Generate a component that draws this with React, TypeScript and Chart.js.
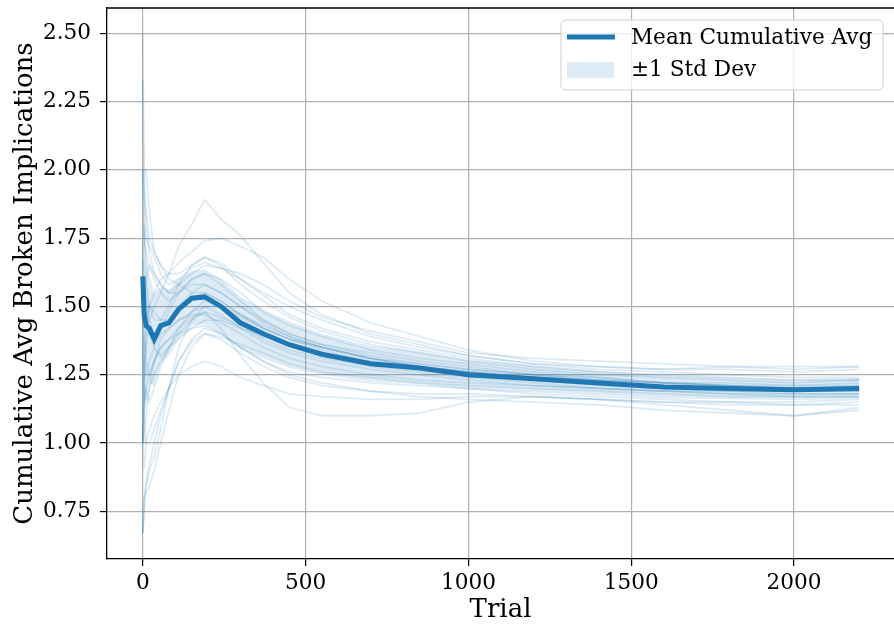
import React, { useEffect, useRef } from "react";
import { Chart, registerables } from "chart.js";

Chart.register(...registerables);

const TRIALS = [0, 4, 10, 20, 35, 55, 80, 110, 150, 190, 240, 300, 370, 450, 550, 700, 850, 1000, 1200, 1400, 1600, 1800, 2000, 2200];

const MEAN = [1.61, 1.47, 1.43, 1.42, 1.38, 1.43, 1.44, 1.49, 1.53, 1.535, 1.5, 1.44, 1.4, 1.36, 1.325, 1.29, 1.275, 1.25, 1.235, 1.22, 1.205, 1.2, 1.195, 1.2];
const STD = [0.4, 0.33, 0.26, 0.2, 0.17, 0.14, 0.12, 0.11, 0.1, 0.1, 0.1, 0.095, 0.09, 0.085, 0.075, 0.065, 0.06, 0.055, 0.05, 0.045, 0.042, 0.04, 0.038, 0.038];

const RUN_01 = [1.0, 1.2, 1.35, 1.45, 1.5, 1.55, 1.62, 1.72, 1.8, 1.89, 1.82, 1.76, 1.66, 1.55, 1.47, 1.4, 1.36, 1.32, 1.29, 1.28, 1.27, 1.28, 1.27, 1.28];
const RUN_02 = [0.67, 0.8, 0.85, 0.9, 0.95, 1.05, 1.2, 1.35, 1.45, 1.48, 1.42, 1.32, 1.22, 1.13, 1.1, 1.1, 1.11, 1.15, 1.17, 1.16, 1.14, 1.12, 1.1, 1.12];
const RUN_03 = [2.0, 2.0, 2.0, 1.85, 1.7, 1.65, 1.6, 1.58, 1.55, 1.55, 1.52, 1.47, 1.42, 1.38, 1.35, 1.31, 1.29, 1.27, 1.25, 1.24, 1.22, 1.21, 1.21, 1.21];
const RUN_04 = [2.5, 2.0, 1.8, 1.7, 1.62, 1.58, 1.55, 1.55, 1.6, 1.62, 1.6, 1.55, 1.48, 1.43, 1.39, 1.34, 1.31, 1.29, 1.26, 1.24, 1.22, 1.21, 1.2, 1.2];
const RUN_05 = [2.33, 1.85, 1.6, 1.5, 1.45, 1.45, 1.5, 1.58, 1.65, 1.68, 1.65, 1.58, 1.52, 1.46, 1.41, 1.36, 1.33, 1.3, 1.27, 1.25, 1.24, 1.23, 1.22, 1.23];
const RUN_06 = [1.0, 1.25, 1.4, 1.5, 1.55, 1.6, 1.62, 1.66, 1.7, 1.74, 1.75, 1.72, 1.68, 1.6, 1.52, 1.44, 1.39, 1.34, 1.3, 1.28, 1.27, 1.27, 1.26, 1.27];
const RUN_07 = [0.67, 0.75, 0.85, 0.92, 1.0, 1.1, 1.2, 1.3, 1.38, 1.42, 1.4, 1.35, 1.3, 1.26, 1.24, 1.22, 1.21, 1.2, 1.18, 1.17, 1.16, 1.15, 1.15, 1.16];
const RUN_08 = [1.0, 1.0, 1.1, 1.2, 1.3, 1.38, 1.42, 1.45, 1.48, 1.5, 1.47, 1.42, 1.37, 1.33, 1.3, 1.27, 1.25, 1.23, 1.21, 1.2, 1.19, 1.18, 1.18, 1.18];
const RUN_09 = [1.5, 1.6, 1.55, 1.45, 1.4, 1.42, 1.45, 1.5, 1.55, 1.58, 1.55, 1.5, 1.45, 1.4, 1.36, 1.32, 1.29, 1.27, 1.25, 1.23, 1.22, 1.21, 1.2, 1.2];
const RUN_10 = [2.0, 1.75, 1.7, 1.65, 1.6, 1.55, 1.52, 1.55, 1.6, 1.62, 1.58, 1.52, 1.45, 1.4, 1.36, 1.33, 1.3, 1.28, 1.25, 1.23, 1.21, 1.2, 1.19, 1.19];
const RUN_11 = [1.33, 1.4, 1.3, 1.25, 1.3, 1.35, 1.38, 1.42, 1.46, 1.48, 1.46, 1.43, 1.38, 1.34, 1.31, 1.28, 1.26, 1.24, 1.22, 1.2, 1.19, 1.18, 1.17, 1.17];
const RUN_12 = [1.67, 1.5, 1.45, 1.4, 1.35, 1.32, 1.35, 1.38, 1.42, 1.45, 1.45, 1.42, 1.39, 1.36, 1.32, 1.29, 1.27, 1.25, 1.23, 1.21, 1.2, 1.19, 1.19, 1.19];
const RUN_13 = [1.0, 1.1, 1.2, 1.25, 1.3, 1.35, 1.38, 1.4, 1.42, 1.43, 1.4, 1.35, 1.3, 1.25, 1.22, 1.19, 1.17, 1.16, 1.15, 1.14, 1.12, 1.11, 1.1, 1.13];
const RUN_14 = [1.67, 1.8, 1.75, 1.72, 1.68, 1.62, 1.58, 1.6, 1.64, 1.66, 1.64, 1.6, 1.55, 1.5, 1.45, 1.39, 1.35, 1.32, 1.29, 1.27, 1.26, 1.25, 1.24, 1.24];
const RUN_15 = [1.33, 1.2, 1.15, 1.2, 1.25, 1.3, 1.35, 1.42, 1.48, 1.52, 1.5, 1.46, 1.42, 1.38, 1.35, 1.31, 1.28, 1.26, 1.24, 1.22, 1.21, 1.2, 1.2, 1.2];
const RUN_16 = [0.67, 0.8, 0.82, 0.84, 0.9, 1.0, 1.12, 1.25, 1.35, 1.4, 1.38, 1.33, 1.28, 1.24, 1.21, 1.19, 1.18, 1.18, 1.17, 1.16, 1.15, 1.14, 1.14, 1.15];
const RUN_17 = [2.0, 1.9, 1.85, 1.75, 1.7, 1.65, 1.62, 1.62, 1.65, 1.68, 1.66, 1.6, 1.54, 1.47, 1.42, 1.37, 1.34, 1.31, 1.28, 1.26, 1.25, 1.24, 1.23, 1.23];
const RUN_18 = [1.0, 1.3, 1.45, 1.5, 1.48, 1.45, 1.45, 1.48, 1.52, 1.55, 1.52, 1.47, 1.42, 1.38, 1.34, 1.3, 1.28, 1.26, 1.24, 1.23, 1.22, 1.22, 1.21, 1.22];
const RUN_19 = [1.0, 0.9, 1.0, 1.05, 1.1, 1.15, 1.2, 1.25, 1.28, 1.3, 1.28, 1.24, 1.21, 1.18, 1.17, 1.16, 1.16, 1.17, 1.17, 1.16, 1.15, 1.15, 1.14, 1.14];
const RUN_20 = [1.67, 1.6, 1.5, 1.4, 1.38, 1.42, 1.48, 1.55, 1.58, 1.58, 1.55, 1.5, 1.44, 1.39, 1.35, 1.31, 1.28, 1.26, 1.24, 1.22, 1.21, 1.2, 1.2, 1.21];
const RUN_21 = [1.33, 1.5, 1.6, 1.65, 1.62, 1.58, 1.55, 1.58, 1.62, 1.65, 1.64, 1.62, 1.58, 1.52, 1.46, 1.41, 1.37, 1.33, 1.31, 1.3, 1.29, 1.28, 1.28, 1.28];
const RUN_22 = [1.5, 1.3, 1.25, 1.3, 1.35, 1.4, 1.42, 1.45, 1.47, 1.47, 1.44, 1.4, 1.35, 1.31, 1.28, 1.25, 1.23, 1.22, 1.21, 1.2, 1.19, 1.19, 1.18, 1.18];
const RUN_23 = [1.0, 1.15, 1.2, 1.15, 1.2, 1.28, 1.35, 1.4, 1.45, 1.5, 1.5, 1.47, 1.43, 1.39, 1.35, 1.31, 1.28, 1.26, 1.24, 1.23, 1.22, 1.21, 1.2, 1.2];
const RUN_24 = [1.33, 1.1, 1.0, 1.0, 1.05, 1.12, 1.2, 1.3, 1.37, 1.4, 1.39, 1.36, 1.33, 1.29, 1.26, 1.24, 1.22, 1.21, 1.2, 1.19, 1.18, 1.17, 1.17, 1.17];

const RUNS = [RUN_01, RUN_02, RUN_03, RUN_04, RUN_05, RUN_06, RUN_07, RUN_08, RUN_09, RUN_10, RUN_11, RUN_12, RUN_13, RUN_14, RUN_15, RUN_16, RUN_17, RUN_18, RUN_19, RUN_20, RUN_21, RUN_22, RUN_23, RUN_24];

const X_TICKS = [0, 500, 1000, 1500, 2000];
const Y_TICKS = [0.75, 1.0, 1.25, 1.5, 1.75, 2.0, 2.25, 2.5];

const X_TITLE = "Trial";
const Y_TITLE = "Cumulative Avg Broken Implications";
const LEGEND_MEAN = "Mean Cumulative Avg";
const LEGEND_STD = "±1 Std Dev";

const FONT = '"DejaVu Serif", serif';
const TICK_SIZE = 21.6;
const TITLE_SIZE = 26;
const C0 = "#1f77b4";
const C0_FAINT = "rgba(31,119,180,0.15)";

const framePlugin = {
  id: "frameAndLegend",
  afterDraw(chart: any) {
    const { ctx, chartArea } = chart;
    ctx.save();
    ctx.strokeStyle = "#000";
    ctx.lineWidth = 1.3;
    ctx.beginPath();
    ctx.moveTo(chartArea.left, chartArea.top);
    ctx.lineTo(chartArea.right, chartArea.top);
    ctx.stroke();

    const bx = 561, by = 20, bw = 322, bh = 70, r = 5;
    ctx.beginPath();
    ctx.moveTo(bx + r, by);
    ctx.lineTo(bx + bw - r, by);
    ctx.quadraticCurveTo(bx + bw, by, bx + bw, by + r);
    ctx.lineTo(bx + bw, by + bh - r);
    ctx.quadraticCurveTo(bx + bw, by + bh, bx + bw - r, by + bh);
    ctx.lineTo(bx + r, by + bh);
    ctx.quadraticCurveTo(bx, by + bh, bx, by + bh - r);
    ctx.lineTo(bx, by + r);
    ctx.quadraticCurveTo(bx, by, bx + r, by);
    ctx.closePath();
    ctx.fillStyle = "rgba(255,255,255,0.8)";
    ctx.fill();
    ctx.strokeStyle = "#d0d0d0";
    ctx.lineWidth = 1;
    ctx.stroke();

    ctx.strokeStyle = C0;
    ctx.lineWidth = 5;
    ctx.beginPath();
    ctx.moveTo(567, 37);
    ctx.lineTo(615, 37);
    ctx.stroke();
    ctx.fillStyle = C0_FAINT;
    ctx.fillRect(567, 62, 47, 16);

    ctx.fillStyle = "#000";
    ctx.font = `${TICK_SIZE}px ${FONT}`;
    ctx.textBaseline = "middle";
    ctx.textAlign = "left";
    ctx.fillText(LEGEND_MEAN, 631, 38);
    ctx.fillText(LEGEND_STD, 631, 70);
    ctx.restore();
  },
};

export default function App() {
  const ref = useRef<HTMLCanvasElement | null>(null);

  useEffect(() => {
    if (!ref.current) return;
    const toPts = (arr: number[]) => TRIALS.map((t, i) => ({ x: t, y: arr[i] }));
    const runSets = RUNS.map((run) => ({
      data: toPts(run),
      borderColor: C0_FAINT,
      borderWidth: 1.8,
      fill: false,
      order: 10,
      pointRadius: 0,
    }));
    const upper = MEAN.map((m, i) => m + STD[i]);
    const lower = MEAN.map((m, i) => m - STD[i]);

    const chart = new Chart(ref.current, {
      type: "line",
      data: {
        datasets: [
          ...runSets,
          {
            data: toPts(upper),
            borderColor: "rgba(0,0,0,0)",
            borderWidth: 0,
            fill: false,
            order: 5,
            pointRadius: 0,
          },
          {
            data: toPts(lower),
            borderColor: "rgba(0,0,0,0)",
            borderWidth: 0,
            backgroundColor: C0_FAINT,
            fill: "-1",
            order: 5,
            pointRadius: 0,
          },
          {
            data: toPts(MEAN),
            borderColor: C0,
            borderWidth: 5,
            fill: false,
            order: 0,
            pointRadius: 0,
          },
        ] as any,
      },
      options: {
        animation: false,
        responsive: false,
        devicePixelRatio: 1,
        layout: { padding: { top: 8, left: 0, right: 0, bottom: 0 } },
        plugins: {
          legend: { display: false },
          tooltip: { enabled: false },
        },
        elements: { line: { tension: 0 }, point: { radius: 0 } },
        scales: {
          x: {
            type: "linear",
            min: -110,
            max: 2307,
            afterBuildTicks: (s: any) => {
              s.ticks = X_TICKS.map((v) => ({ value: v }));
            },
            afterFit: (s: any) => {
              s.height = 67;
              s.paddingLeft = 0;
              s.paddingRight = 0;
            },
            ticks: {
              color: "#000",
              font: { family: FONT, size: TICK_SIZE },
              padding: 4,
              maxRotation: 0,
              autoSkip: false,
              callback: (v: any) => String(v),
            },
            grid: {
              color: "#b0b0b0",
              lineWidth: 1.2,
              tickColor: "#000",
              tickLength: 7,
              tickWidth: 1.2,
            },
            border: { display: true, color: "#000", width: 1.3 },
            title: {
              display: true,
              text: X_TITLE,
              color: "#000",
              font: { family: FONT, size: TITLE_SIZE },
              padding: { top: 0, bottom: 0 },
            },
          },
          y: {
            type: "linear",
            min: 0.5755,
            max: 2.5926,
            afterBuildTicks: (s: any) => {
              s.ticks = Y_TICKS.map((v) => ({ value: v }));
            },
            afterFit: (s: any) => {
              s.width = 107;
              s.paddingTop = 0;
              s.paddingBottom = 0;
            },
            ticks: {
              color: "#000",
              font: { family: FONT, size: TICK_SIZE },
              padding: 9,
              autoSkip: false,
              callback: (v: any) => Number(v).toFixed(2),
            },
            grid: {
              color: "#b0b0b0",
              lineWidth: 1.2,
              tickColor: "#000",
              tickLength: 7,
              tickWidth: 1.2,
            },
            border: { display: true, color: "#000", width: 1.3 },
            title: {
              display: true,
              text: Y_TITLE,
              color: "#000",
              font: { family: FONT, size: TITLE_SIZE },
              padding: { top: 10, bottom: 0 },
            },
          },
        },
      } as any,
      plugins: [framePlugin],
    });
    return () => chart.destroy();
  }, []);

  return (
    <div style={{ position: "fixed", left: 0, top: 0, width: 894, height: 626, background: "#fff" }}>
      <canvas ref={ref} width={894} height={626} style={{ display: "block" }} />
    </div>
  );
}
